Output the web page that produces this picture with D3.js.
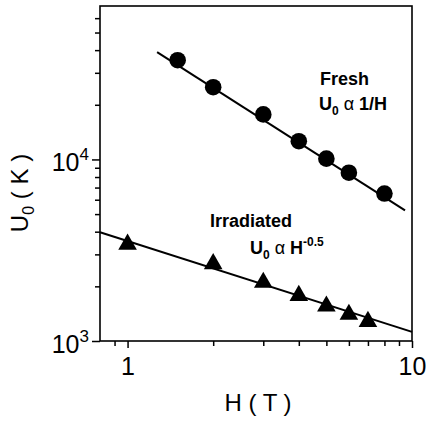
<!DOCTYPE html>
<style>
    body { margin: 0; background: #fff; }
    svg { font-family: "Liberation Sans", Arial, sans-serif; }
    .axis .domain { display: none; }
    .axis line { stroke: #000; stroke-width: 1.5; }
</style>
<svg width="426" height="422"></svg>
<script src="https://d3js.org/d3.v7.min.js"></script>
<script>

    // fields (T)
    var freshH = [1.5, 2, 3, 4, 5, 6, 8];
    var irradH = [1, 2, 3, 4, 5, 6, 7];
    // U0 (K)
    var freshU = [35200, 25000, 17700, 12600, 10100, 8450, 6490];
    var irradU = [3410, 2660, 2100, 1780, 1555, 1400, 1280];
    // fit lines: U0 = A * H^p, drawn between hMin and hMax
    var freshFit = {A: 49500, p: -1, hMin: 1.27, hMax: 9.45};
    var irradFit = {A: 3550, p: -0.5, hMin: 0.8, hMax: 10};

    var xMajor = [1, 10];
    var xMinor = [0.9, 2, 3, 4, 5, 6, 7, 8, 9];
    var yMajor = [1000, 10000];
    var yMinor = [2000, 3000, 4000, 5000, 6000, 7000, 8000, 9000,
                  20000, 30000, 40000, 50000, 60000];

    var svg = d3.select("svg"),
        width = +svg.attr("width"),
        height = +svg.attr("height"),
        margin = {top: 6, right: 14, bottom: 81, left: 100};

    var x = d3.scaleLog()
        .domain([0.8, 10])
        .range([margin.left, width - margin.right]);

    var y = d3.scaleLog()
        .domain([1000, 70000])
        .range([height - margin.bottom, margin.top]);

    // minor ticks
    svg.append("g")
        .attr("class", "axis")
        .attr("transform", "translate(0," + (height - margin.bottom) + ")")
        .call(d3.axisBottom(x).tickValues(xMinor).tickSize(5).tickFormat(""));

    svg.append("g")
        .attr("class", "axis")
        .attr("transform", "translate(" + margin.left + ",0)")
        .call(d3.axisLeft(y).tickValues(yMinor).tickSize(5).tickFormat(""));

    // major ticks
    var xAx = svg.append("g")
        .attr("class", "axis")
        .attr("transform", "translate(0," + (height - margin.bottom) + ")")
        .call(d3.axisBottom(x).tickValues(xMajor).tickSize(7).tickPadding(8)
            .tickFormat(function(d) { return d; }));
    xAx.selectAll("text")
        .attr("font-size", 25)
        .attr("fill", "#000")
        .attr("dy", "0.75em");

    var yAx = svg.append("g")
        .attr("class", "axis")
        .attr("transform", "translate(" + margin.left + ",0)")
        .call(d3.axisLeft(y).tickValues(yMajor).tickSize(8).tickFormat(""));

    yAx.selectAll(".tick").append("text")
        .attr("x", -11)
        .attr("y", 11)
        .attr("text-anchor", "end")
        .attr("fill", "#000")
        .attr("font-size", 25)
        .each(function(d) {
            var t = d3.select(this);
            t.append("tspan").text("10");
            t.append("tspan")
                .attr("font-size", 17)
                .attr("dy", -11)
                .text(Math.round(Math.log10(d)));
        });

    // frame
    svg.append("rect")
        .attr("x", x.range()[0])
        .attr("y", y.range()[1])
        .attr("width", x.range()[1] - x.range()[0])
        .attr("height", y.range()[0] - y.range()[1])
        .attr("fill", "none")
        .attr("stroke", "#000")
        .attr("stroke-width", 1.6);

    // fit lines
    function fitLine(f) {
        return [f.hMin, f.hMax].map(function(h) { return [h, f.A * Math.pow(h, f.p)]; });
    }
    var line = d3.line()
        .x(function(d) { return x(d[0]); })
        .y(function(d) { return y(d[1]); });

    [freshFit, irradFit].forEach(function(f) {
        svg.append("path")
            .datum(fitLine(f))
            .attr("fill", "none")
            .attr("stroke", "#000")
            .attr("stroke-width", 2)
            .attr("d", line);
    });

    // markers
    svg.append("g")
        .selectAll("circle")
        .data(d3.zip(freshH, freshU))
        .enter().append("circle")
        .attr("cx", function(d) { return x(d[0]); })
        .attr("cy", function(d) { return y(d[1]); })
        .attr("r", 8.3)
        .attr("fill", "#000");

    svg.append("g")
        .selectAll("path")
        .data(d3.zip(irradH, irradU))
        .enter().append("path")
        .attr("transform", function(d) { return "translate(" + x(d[0]) + "," + y(d[1]) + ")"; })
        .attr("d", d3.symbol().type(d3.symbolTriangle).size(150))
        .attr("fill", "#000");

    // annotations
    function label(xp, yp, parts) {
        var t = svg.append("text")
            .attr("x", xp)
            .attr("y", yp)
            .attr("font-size", 18)
            .attr("font-weight", "bold")
            .attr("fill", "#000");
        parts.forEach(function(p) {
            var s = t.append("tspan").text(p.t);
            if (p.sub) s.attr("font-size", 12).attr("dy", p.dy);
            if (p.dy && !p.sub) s.attr("dy", p.dy);
            if (p.normal) s.attr("font-weight", "normal");
        });
        return t;
    }

    label(320, 85, [{t: "Fresh"}]);
    label(319, 110, [
        {t: "U"}, {t: "0", sub: true, dy: 5},
        {t: " \u03b1 ", normal: true, dy: -5},
        {t: "1/H"}
    ]);

    label(210, 227, [{t: "Irradiated"}]);
    label(250, 254, [
        {t: "U"}, {t: "0", sub: true, dy: 5},
        {t: " \u03b1 ", normal: true, dy: -5},
        {t: "H"}, {t: "-0.5", sub: true, dy: -8}
    ]);

    // axis titles
    svg.append("text")
        .attr("x", 258)
        .attr("y", 411)
        .attr("text-anchor", "middle")
        .attr("font-size", 24)
        .attr("fill", "#000")
        .text("H ( T )");

    var yt = svg.append("text")
        .attr("transform", "translate(28,193) rotate(-90)")
        .attr("text-anchor", "middle")
        .attr("font-size", 24)
        .attr("fill", "#000");
    yt.append("tspan").text("U");
    yt.append("tspan").attr("font-size", 16).attr("dy", 6).text("0");
    yt.append("tspan").attr("dy", -6).text(" ( K )");

</script>
